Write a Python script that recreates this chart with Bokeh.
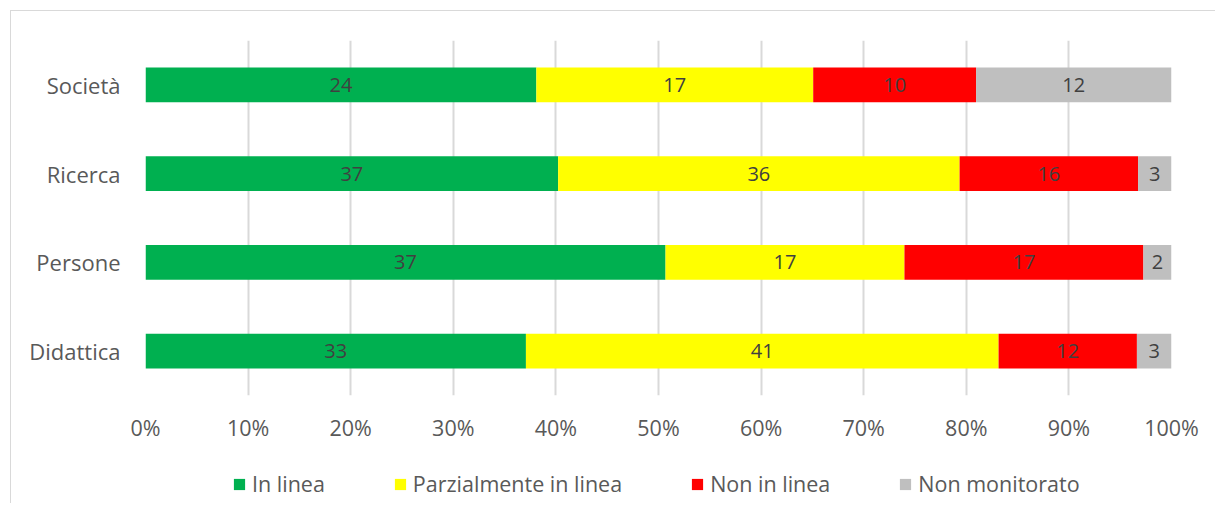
from bokeh.plotting import figure
from bokeh.layouts import column
from bokeh.models import (ColumnDataSource, Range1d, FactorRange, FixedTicker,
                          NumeralTickFormatter, Legend, LegendItem, LabelSet)
from bokeh.core.properties import value
from bokeh.embed import file_html
from bokeh.resources import INLINE

categories = ["Didattica", "Persone", "Ricerca", "Società"]
series_names = ["In linea", "Parzialmente in linea", "Non in linea", "Non monitorato"]
in_linea = [33, 37, 37, 24]
parzialmente = [41, 17, 36, 17]
non_in_linea = [12, 17, 16, 10]
non_monitorato = [3, 2, 3, 12]
colors = ["#00B050", "#FFFF00", "#FF0000", "#BFBFBF"]
x_ticks = [0.0, 0.1, 0.2, 0.3, 0.4, 0.5, 0.6, 0.7, 0.8, 0.9, 1.0]

FONT = "Open Sans"
series = [in_linea, parzialmente, non_in_linea, non_monitorato]
keys = ["s0", "s1", "s2", "s3"]
totals = [sum(v) for v in zip(*series)]
data = {"cat": categories}
for k, s in zip(keys, series):
    data[k] = [v / t for v, t in zip(s, totals)]
source = ColumnDataSource(data)

# label positions
lab_x, lab_y, lab_t = [], [], []
for i, c in enumerate(categories):
    cum = 0.0
    for s in series:
        frac = s[i] / totals[i]
        lab_x.append(cum + frac / 2)
        lab_y.append(c)
        lab_t.append(str(s[i]))
        cum += frac
lab_src = ColumnDataSource(dict(x=lab_x, y=lab_y, t=lab_t))

p = figure(frame_width=1026, frame_height=355, output_backend="svg", toolbar_location=None,
           x_range=Range1d(0, 1), y_range=FactorRange(*categories),
           min_border_left=134, min_border_right=44, min_border_top=29,
           min_border_bottom=50)
p.outline_line_color = None
p.background_fill_color = "white"
p.border_fill_color = "white"

renderers = p.hbar_stack(keys, y="cat", height=0.39, color=colors, source=source,
                         line_color=None)

labels = LabelSet(x="x", y="y", text="t", source=lab_src, text_align="center",
                  text_baseline="middle", text_font=value(FONT), text_font_size="20px",
                  text_color="#404040")
p.add_layout(labels)

p.xgrid.ticker = FixedTicker(ticks=x_ticks)
p.xgrid.grid_line_color = "#d9d9d9"
p.xgrid.grid_line_width = 2
p.ygrid.grid_line_color = None

p.xaxis.ticker = FixedTicker(ticks=x_ticks)
p.xaxis.formatter = NumeralTickFormatter(format="0%")
for ax in (p.xaxis[0], p.yaxis[0]):
    ax.axis_line_color = None
    ax.major_tick_line_color = None
    ax.minor_tick_line_color = None
    ax.major_tick_out = 0
    ax.major_tick_in = 0
    ax.major_label_text_font = FONT
    ax.major_label_text_color = "#595959"
p.xaxis.major_label_text_font_size = "21.5px"
p.yaxis.major_label_text_font_size = "22px"
p.xaxis.major_label_standoff = 17
p.yaxis.major_label_standoff = 25

# legend strip (separate figure below the chart)
leg = figure(frame_width=1204, frame_height=58, output_backend="svg", toolbar_location=None,
             x_range=Range1d(0, 1), y_range=Range1d(0, 1), x_axis_type=None, y_axis_type=None,
             min_border=0)
leg.outline_line_color = None
leg.xgrid.grid_line_color = None
leg.ygrid.grid_line_color = None
leg.background_fill_color = "white"
leg.border_fill_color = "white"
nan = float("nan")
swatches = [leg.hbar(y=[nan], right=[nan], height=0.5, color=c, line_color=None)
            for c in colors]
items = [LegendItem(label=n, renderers=[r]) for n, r in zip(series_names, swatches)]
legend = Legend(items=items, orientation="horizontal", location=(221, 5),
                glyph_width=14, glyph_height=14, label_standoff=6, spacing=68,
                label_text_font=FONT, label_text_font_size="21.5px",
                label_text_color="#595959", border_line_color=None,
                background_fill_alpha=0, margin=0, padding=0)
leg.add_layout(legend)

layout = column(p, leg, spacing=0,
                styles={"border-top": "1px solid #d9d9d9", "border-left": "1px solid #d9d9d9",
                        "margin-left": "10px", "margin-top": "10px"})

open("out.html", "w").write(file_html(layout, INLINE))
